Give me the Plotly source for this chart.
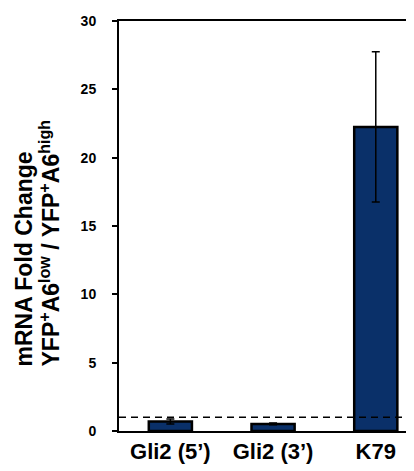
import plotly.graph_objects as go

categories = ["Gli2 (5’)", "Gli2 (3’)", "K79"]
values = [0.7, 0.52, 22.25]
errors = [0.18, 0.06, 5.5]
baseline = 1
y_ticks = [0, 5, 10, 15, 20, 25, 30]
title_line1 = "mRNA Fold Change"
title_line2 = "YFP<sup>+</sup>A6<sup>low</sup> / YFP<sup>+</sup>A6<sup>high</sup>"

FONT = "Liberation Sans, Arial, sans-serif"
L, T, B, W, H = 111, 13, 48, 414, 471
plot_w = W - L
plot_h = H - T - B

fig = go.Figure()
fig.add_trace(go.Bar(
    x=list(range(len(categories))), y=values,
    width=0.42,
    marker=dict(color="#0A3069", line=dict(color="black", width=2.5)),
    error_y=dict(type="data", array=errors, visible=True, color="black", thickness=1.5, width=4),
))
fig.add_shape(type="line", xref="paper", yref="y", x0=0, x1=1, y0=baseline, y1=baseline,
              line=dict(color="black", width=1.5, dash="7px,5px"))

y_bottom = (H - B - 361) / plot_h
for txt, px in [(title_line1, 15), (title_line2, 41)]:
    fig.add_annotation(
        text=f"<b>{txt}</b>", textangle=-90, showarrow=False,
        xref="paper", yref="paper", x=(px - L) / plot_w, y=y_bottom,
        xanchor="center", yanchor="bottom",
        font=dict(family=FONT, size=23, color="black", weight="bold"),
    )

fig.update_layout(
    width=W, height=H,
    margin=dict(l=L, r=0, t=T, b=B, autoexpand=False),
    plot_bgcolor="white", paper_bgcolor="white",
    showlegend=False,
    font=dict(family=FONT, color="black"),
)
fig.update_xaxes(
    range=[-0.5, 2.45], automargin=False,
    tickvals=list(range(len(categories))), ticktext=[f"<b>{c}</b>" for c in categories],
    tickfont=dict(size=22, weight="bold"), showline=True, linecolor="black", linewidth=2,
    mirror=True, ticks="", showgrid=False, zeroline=False, ticklabelstandoff=0,
)
fig.update_yaxes(
    range=[0, 30], automargin=False, tickvals=y_ticks, ticktext=[f"<b>{t}</b>" for t in y_ticks],
    tickfont=dict(size=14, weight="bold"), showline=True, linecolor="black", linewidth=2,
    ticks="outside", ticklen=5, tickwidth=1.5, tickcolor="black",
    showgrid=False, zeroline=False, ticklabelstandoff=13,
)
fig.write_html("out.html")
